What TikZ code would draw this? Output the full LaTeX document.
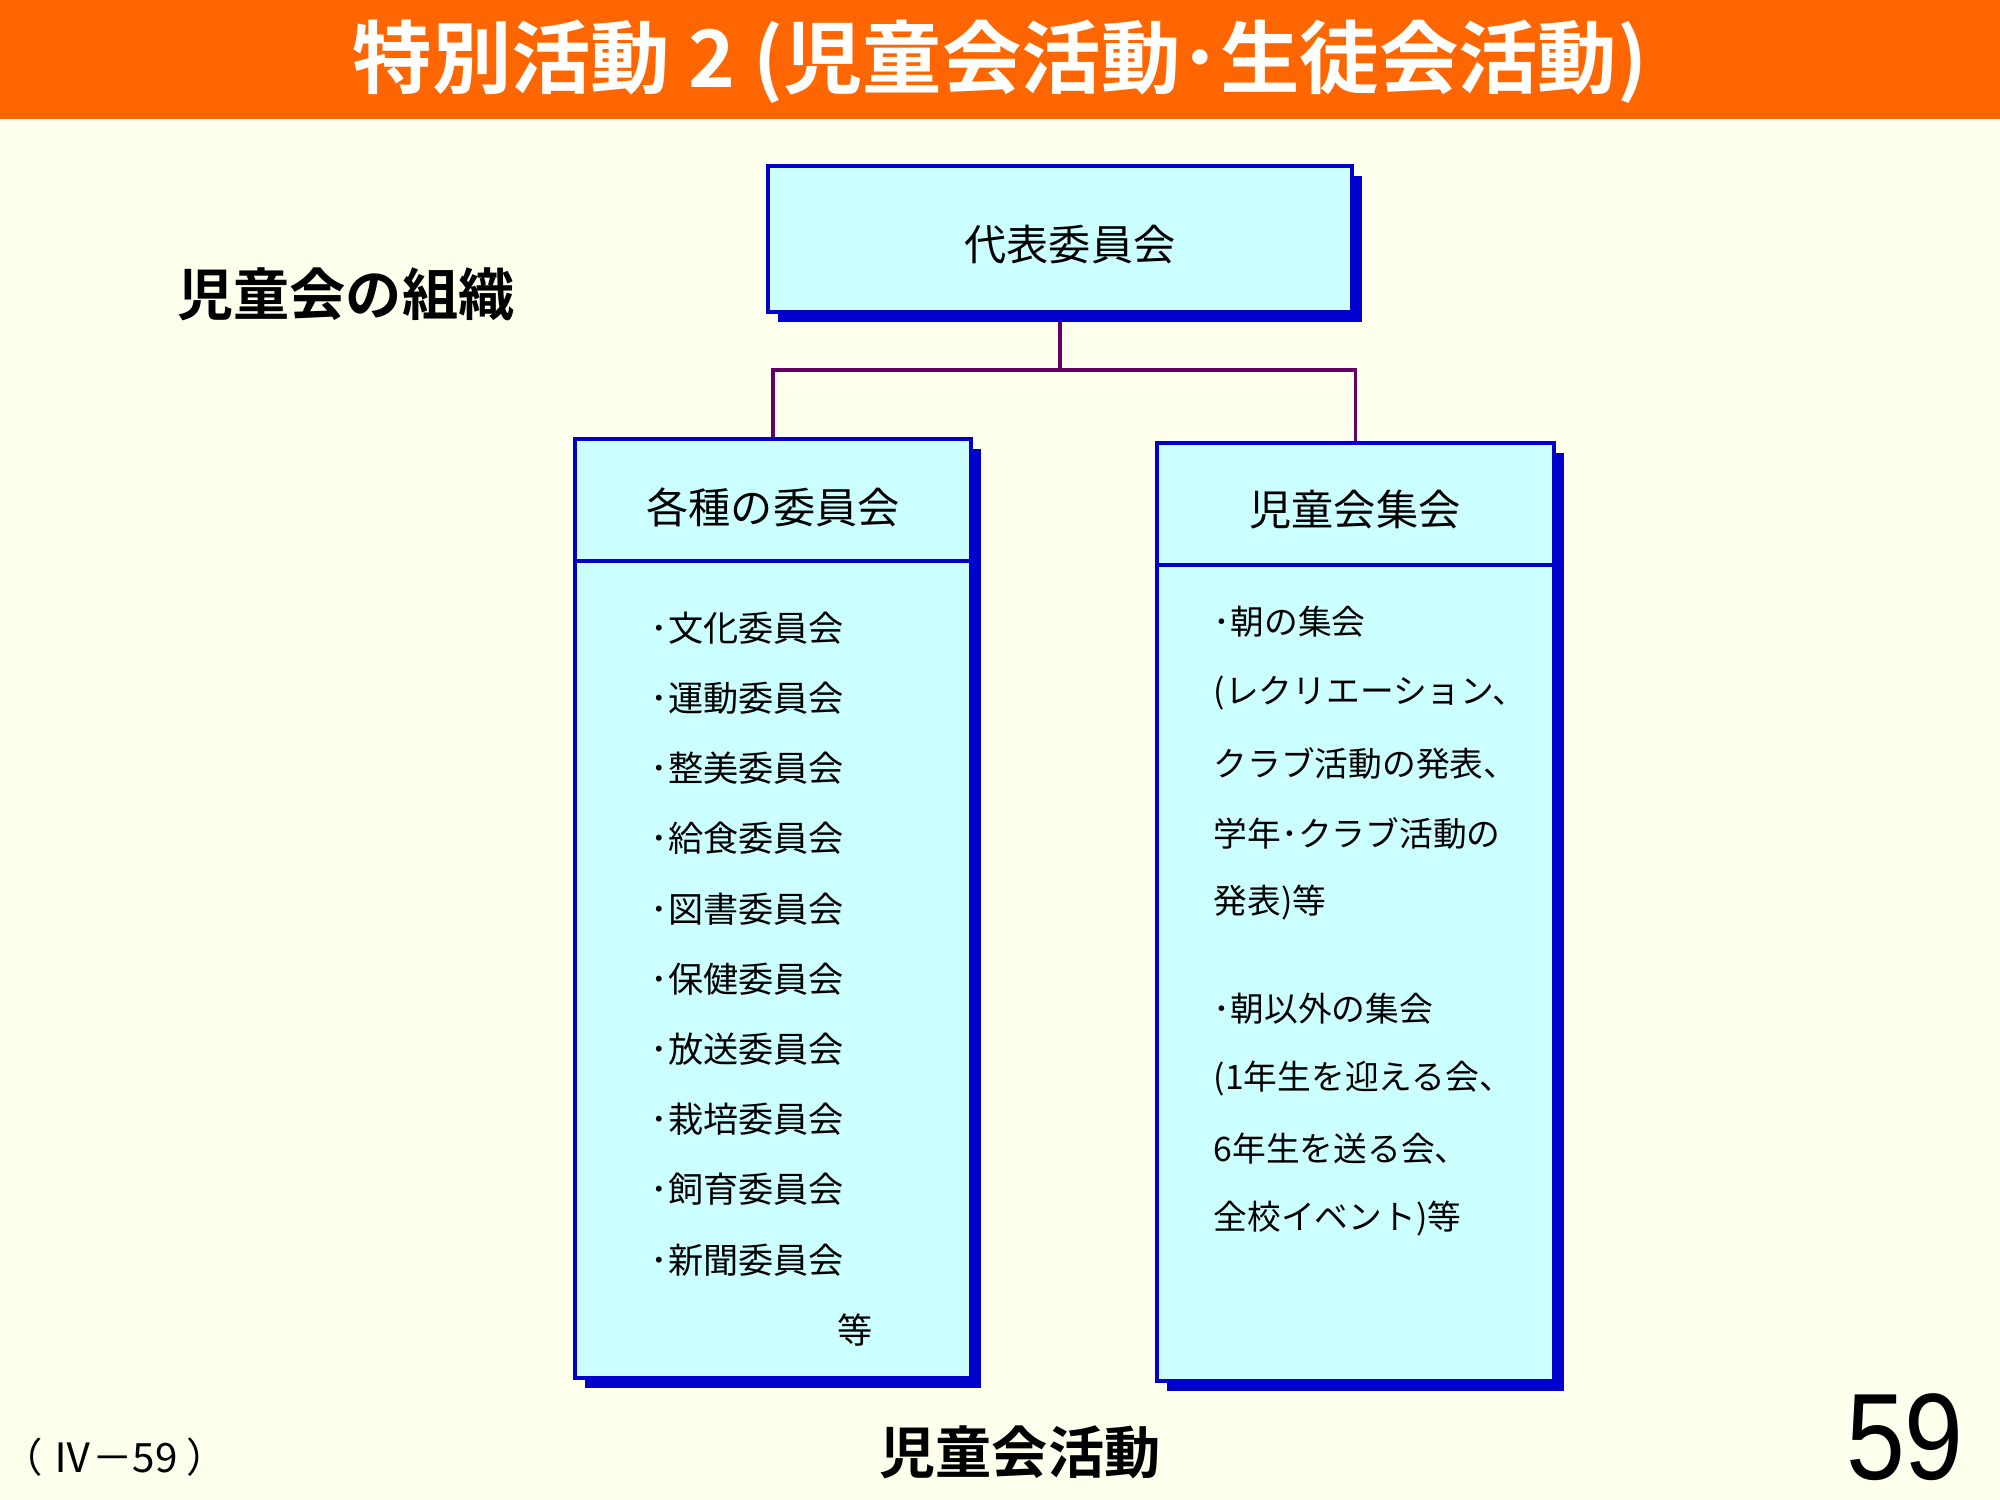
\documentclass[tikz,border=0pt]{standalone}
\usepackage{fontspec}
\setmainfont{Noto Sans CJK JP}[BoldFont=Noto Sans CJK JP Bold]
\newfontfamily\numfont{Liberation Sans}
\usetikzlibrary{shadows,backgrounds}
\definecolor{bannerorange}{HTML}{FF6600}
\definecolor{paper}{HTML}{FFFFEE}
\definecolor{boxfill}{HTML}{CCFFFF}
\definecolor{boxblue}{HTML}{0000CC}
\definecolor{linkpurple}{HTML}{660066}
\tikzset{
  orgbox/.style={draw=boxblue, line width=0.45mm, fill=boxfill,
    drop shadow={shadow xshift=1mm, shadow yshift=-1mm, fill=boxblue, opacity=1}},
  link/.style={draw=linkpurple, line width=0.35mm},
  headtext/.style={font=\fontsize{12}{14}\selectfont},
  itemtext/.style={font=\fontsize{10}{12}\selectfont, anchor=west, inner sep=0pt},
  boldlabel/.style={font=\bfseries\fontsize{16}{19}\selectfont}
}
\begin{document}
\begin{tikzpicture}[x=0.1mm,y=-0.1mm]
\useasboundingbox (0,0) rectangle (2000,1500);

\node[orgbox, minimum width=58.4mm, minimum height=14.6mm] (rep) at (1060,239) {};
\node[headtext] (replabel) at (1070,245) {代表委員会};

\node[orgbox, minimum width=39.6mm, minimum height=93.9mm] (lbox) at (773,908.5) {};
\node[orgbox, minimum width=39.7mm, minimum height=93.8mm] (rbox) at (1355.5,912) {};
\draw[boxblue, line width=0.45mm] (lbox.west |- 0,561) -- (lbox.east |- 0,561);
\draw[boxblue, line width=0.45mm] (rbox.west |- 0,565) -- (rbox.east |- 0,565);
\node[headtext] (lhead) at (773,507) {各種の委員会};
\node[headtext] (rhead) at (1355,510) {児童会集会};

\foreach \name [count=\i from 0] in {文化,運動,整美,給食,図書,保健,放送,栽培,飼育,新聞}
  \node[itemtext] (litem\i) at (650,628+70.2*\i) {･\name 委員会};
\node[itemtext, anchor=center] (letc) at (855,1330) {等};

\foreach \y/\t [count=\i] in {622/{･朝の集会}, 693/{(レクリエーション、}, 763/{クラブ活動の発表、},
    833/{学年･クラブ活動の}, 903/{発表)等}, 1009/{･朝以外の集会}, 1079/{(1年生を迎える会、},
    1149/{6年生を送る会、}, 1219/{全校イベント)等}}
  \node[itemtext, font=\fontsize{9.6}{12}\selectfont] (ritem\i) at (1213,\y) {\t};

\begin{scope}[on background layer]
\fill[paper] (0,0) rectangle (2000,1500);
\fill[bannerorange] (0,0) rectangle (2000,119);
\coordinate (fork) at (1060,370);
\draw[link] (rep.south) -- (fork) -| (lbox.north);
\draw[link] (fork) -| (rbox.north);
\end{scope}

\node[text=white, font=\bfseries\fontsize{22.6}{26}\selectfont] (title) at (1000,62) {特別活動 2 (児童会活動･生徒会活動)};
\node[boldlabel] (orgtitle) at (346,294) {児童会の組織};
\node[boldlabel] (caption) at (1020,1452) {児童会活動};
\node[font=\fontsize{11.5}{13}\selectfont] (ref) at (115,1457) {（ Ⅳ－59 ）};
\node[font=\numfont\fontsize{35}{40}\selectfont] (pageno) at (1905,1437) {\scalebox{0.86}[1]{59}};
\end{tikzpicture}
\end{document}
